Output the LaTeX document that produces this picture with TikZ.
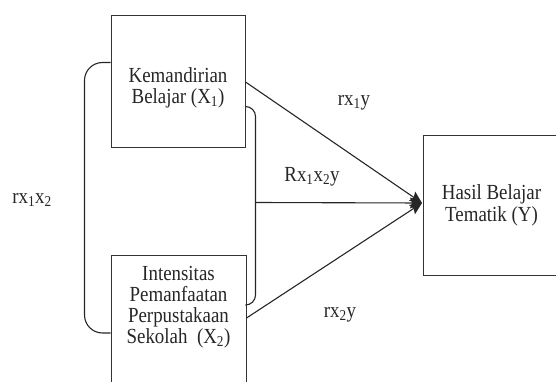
\documentclass[tikz,border=0pt]{standalone}
\usepackage{fontspec}
\setmainfont{Liberation Serif}[FakeStretch=0.88]
\usetikzlibrary{positioning,calc,arrows.meta}

\begin{document}
\begin{tikzpicture}[x=1pt,y=-1pt,
    font=\fontsize{21.5}{21}\selectfont,text=black!85,
    var box/.style={draw=black!80,line width=1pt,rectangle,inner sep=0pt},
    box text/.style={align=center,inner sep=0pt},
    conn/.style={draw=black!85,line width=1.1pt},
    path arrow/.style={conn,-{Stealth[length=12pt,width=11pt,inset=2pt]}},
    coef/.style={inner sep=0pt}]
\useasboundingbox (0,0) rectangle (556,382);
% variables
\node[var box,minimum width=134pt,minimum height=132pt] (X1) at (178,82) {};
\node[box text] (X1-text) at ($(X1.center)+(0,6)$) {Kemandirian\\Belajar (X\textsubscript{1})};
\node[var box,minimum width=135pt,minimum height=140pt,anchor=north] (X2) at (178.5,255) {};
\node[box text,below=11pt of X2.north] (X2-text) {Intensitas\\Pemanfaatan\\Perpustakaan\\Sekolah~ (X\textsubscript{2})};
\node[var box,box text,minimum width=137pt,minimum height=139pt] (Y) at (491.5,205.5) {Hasil Belajar\\[1pt]Tematik (Y)};
\coordinate (tip) at (422,203);
% brackets
\coordinate (lb-top) at ($(X1.north west)+(0,47)$);
\coordinate (lb-bot) at ($(X2.north west)+(0,78)$);
\draw[conn,rounded corners=18pt] (lb-top) -- ++(-26,0) |- (lb-bot);
\coordinate (rb-top) at ($(X1.north east)+(0,91)$);
\coordinate (rb-bot) at ($(X2.north east)+(0,50)$);
\draw[conn,rounded corners=10pt] (rb-top) -- ++(10,0) |- (rb-bot);
\coordinate (rb-mid) at ($(rb-top)+(10,96)$);
\coordinate (X2-out) at ($(X2.north east)+(0,63)$);
% paths to Y
\draw[path arrow] (X1.east) -- (tip);
\draw[path arrow] (X2-out) -- (tip);
\draw[path arrow] (rb-mid) -- (tip);
% coefficients
\foreach \lbl/\px/\py/\txt in {l-x1x2/32/200/{rx\textsubscript{1}x\textsubscript{2}},
    l-x1y/354/103/{rx\textsubscript{1}y},
    l-x1x2y/312/177/{Rx\textsubscript{1}x\textsubscript{2}y},
    l-x2y/340/315/{rx\textsubscript{2}y}}
  \node[coef] (\lbl) at (\px,\py) {\txt};
\end{tikzpicture}
\end{document}
